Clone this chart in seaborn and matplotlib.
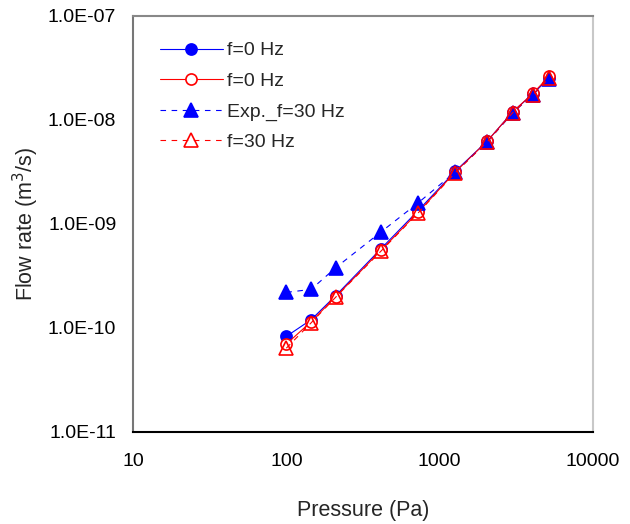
import matplotlib
matplotlib.use("Agg")
import matplotlib.pyplot as plt
import seaborn as sns
import numpy as np
import pandas as pd
from matplotlib.ticker import LogLocator, FixedLocator, NullFormatter, FuncFormatter

sns.set_style("white")
plt.rcParams['font.family'] = ['Liberation Sans', 'DejaVu Sans']

pressure = [100, 145, 210, 415, 725, 1260, 2050, 3000, 4050, 5200]
exp_f0 = [8.3e-11, 1.2e-10, 2.05e-10, 5.8e-10, 1.35e-9, 3.2e-9, 6.3e-9, 1.2e-8, 1.78e-8, 2.55e-8]
model_f0 = [7.0e-11, 1.15e-10, 2.0e-10, 5.6e-10, 1.3e-9, 3.15e-9, 6.3e-9, 1.2e-8, 1.8e-8, 2.65e-8]
exp_f30 = [2.2e-10, 2.35e-10, 3.8e-10, 8.4e-10, 1.6e-9, 3.15e-9, 6.2e-9, 1.17e-8, 1.75e-8, 2.5e-8]
model_f30 = [6.4e-11, 1.12e-10, 1.98e-10, 5.5e-10, 1.28e-9, 3.1e-9, 6.2e-9, 1.18e-8, 1.75e-8, 2.55e-8]
labels = ["f=0 Hz", "f=0 Hz", "Exp._f=30 Hz", "f=30 Hz"]

fig = plt.figure(figsize=(6.3, 5.24), dpi=100)
ax = fig.add_axes([133/630, 1-432/524, (593-133)/630, (432-16)/524])

series = [
    (exp_f0, dict(color="#0000ff", marker="o", markersize=8, markerfacecolor="#0000ff",
                  markeredgecolor="#0000ff", linestyle="-")),
    (model_f0, dict(color="#ff0000", marker="o", markersize=8, markerfacecolor="white",
                    markeredgecolor="#ff0000", linestyle="-")),
    (exp_f30, dict(color="#0000ff", marker="^", markersize=10, markerfacecolor="#0000ff",
                   markeredgecolor="#0000ff", linestyle=(0, (5, 5)))),
    (model_f30, dict(color="#ff0000", marker="^", markersize=10, markerfacecolor="none",
                     markeredgecolor="#ff0000", linestyle=(0, (5, 5)))),
]
for (vals, st), lab in zip(series, labels):
    df = pd.DataFrame({"x": pressure, "y": vals})
    sns.lineplot(data=df, x="x", y="y", ax=ax, sort=False, estimator=None,
                 linewidth=0.8, label=lab, markeredgewidth=1.2, **st)

ax.set_xscale("log")
ax.set_yscale("log")
ax.set_xlim(10, 10000)
ax.set_ylim(1e-11, 1e-7)

ax.xaxis.set_major_locator(FixedLocator([10, 100, 1000, 10000]))
ax.xaxis.set_minor_locator(LogLocator(base=10, subs=np.arange(2, 10), numticks=20))
ax.xaxis.set_minor_formatter(NullFormatter())
ax.xaxis.set_major_formatter(FuncFormatter(lambda v, p: f"{int(round(v))}"))
ax.yaxis.set_major_locator(FixedLocator([1e-11, 1e-10, 1e-9, 1e-8, 1e-7]))
ax.yaxis.set_minor_locator(FixedLocator([]))
ax.yaxis.set_major_formatter(FuncFormatter(lambda v, p: f"{v:.1E}"))

ax.tick_params(axis="both", which="major", direction="in", length=6, width=1,
               labelsize=14, colors="black", pad=12)
ax.tick_params(axis="x", which="minor", direction="in", length=4, width=1, colors="#555555")
ax.tick_params(axis="x", which="major", pad=15)

for side, col in [("left", "#777777"), ("top", "#888888"), ("right", "#c8c8c8"), ("bottom", "black")]:
    ax.spines[side].set_visible(True)
    ax.spines[side].set_color(col)
    ax.spines[side].set_linewidth(1.5)

ax.set_xlabel("Pressure (Pa)", fontsize=15.5, labelpad=22)
ax.set_ylabel("Flow rate (m$^3$/s)", fontsize=15.5, labelpad=5)
ax.grid(False)

ax.legend(loc="upper left", bbox_to_anchor=(0.02, 0.98), frameon=False, fontsize=14,
          handlelength=3.25, labelspacing=0.66, handletextpad=0.2)

fig.savefig("out.png", dpi=100)
